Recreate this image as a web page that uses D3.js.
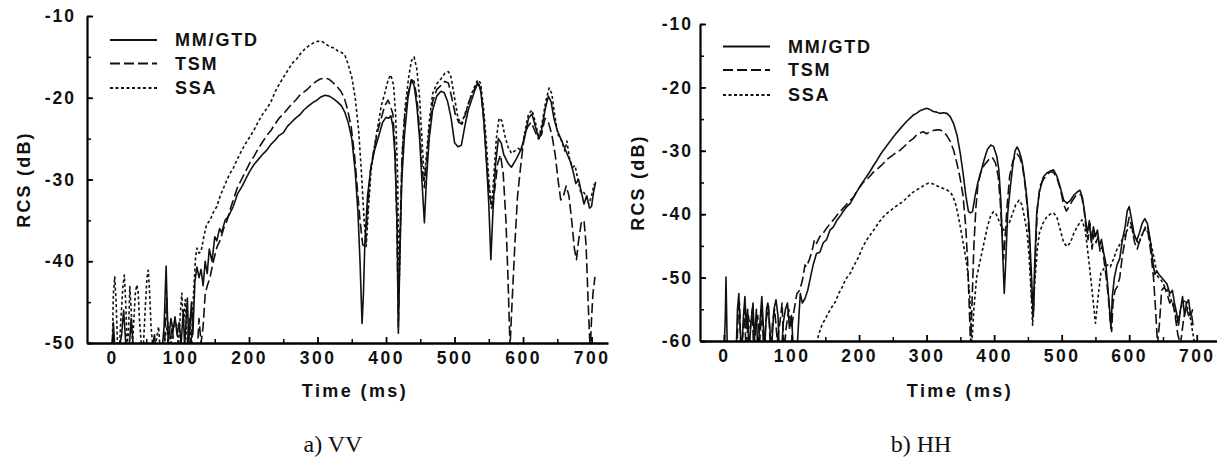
<!DOCTYPE html>
<html>
<head>
<meta charset="utf-8">
<script src="https://cdn.jsdelivr.net/npm/d3@7/dist/d3.min.js"></script>
<style>
  html, body { margin: 0; padding: 0; background: #fff; }
  svg { display: block; }
  .lab { font-family: "Liberation Sans", Arial, sans-serif; font-weight: bold; fill: #111; }
  .cap { font-family: "Liberation Serif", "Times New Roman", serif; fill: #111; }
</style>
</head>
<body>
<svg id="chart" width="1217" height="468"></svg>
<script>
// ---------------- DATA ----------------
const seriesNames = ["MM/GTD", "TSM", "SSA"];
const xTickLabels = [0, 100, 200, 300, 400, 500, 600, 700];
const yTicksVV = [-50, -40, -30, -20, -10];
const yTicksHH = [-60, -50, -40, -30, -20, -10];
const captions = ["a) VV", "b) HH"];

// a) VV  [time ms, RCS dB]
const vvMM = [[0,-52],[2,-47.5],[4,-50.5],[8,-52],[14,-49],[17,-46],[20,-50],[24,-52],[28,-47],[31,-50.5],[36,-52],[55,-52],[62,-49],[65,-52],[72,-52],[76,-48],[79,-40.6],[82,-50],[86,-47],[89,-48.5],[92,-46.8],[95,-49],[98,-47.5],[101,-50],[104,-46],[106,-50.5],[110,-44.5],[112,-50],[116,-45],[118,-49],[121,-42.5],[124,-40.7],[127,-42],[130,-41],[133,-43],[136,-40],[139,-41.5],[142,-38.5],[146,-40],[150,-37],[153,-37.5],[157,-36],[160,-36.5],[165,-35],[170,-34.5],[177,-33.3],[183,-31.8],[190,-30.8],[196,-29.8],[201,-29.0],[207,-28.2],[213,-27.6],[219,-27],[226,-26.4],[232,-25.7],[238,-25.2],[244,-24.6],[250,-24.3],[256,-23.5],[262,-23],[268,-22.5],[274,-22.1],[280,-21.5],[287,-21],[293,-20.6],[299,-20.3],[305,-19.9],[311,-19.7],[317,-19.8],[323,-20.1],[329,-20.5],[335,-21],[340,-21.8],[345,-23.1],[350,-25],[355,-29],[359,-34],[362,-40],[365,-47.6],[367,-44],[369,-38],[373,-32],[378,-28.5],[383,-26.5],[390,-24.5],[395,-23],[400,-22.4],[404,-22.5],[407,-22.2],[410,-23.5],[413,-27],[416,-35],[418,-48.8],[420,-40],[423,-30],[427,-24.5],[432,-20],[437,-17.8],[441,-18.5],[445,-21],[449,-25],[453,-31],[456,-35.3],[459,-30],[463,-25],[468,-21.5],[474,-19.8],[480,-19.2],[485,-19.4],[490,-20.5],[495,-22.5],[500,-25.5],[505,-26],[510,-25.8],[515,-23.5],[520,-21.5],[526,-20],[530,-19],[534,-18.2],[538,-19],[542,-22],[546,-27],[550,-33],[553,-39.8],[556,-34],[560,-28],[564,-25],[568,-25.5],[572,-27],[578,-28],[583,-28.5],[590,-27.5],[596,-26.5],[602,-25],[608,-22.5],[613,-22],[618,-23.5],[623,-25],[627,-24],[632,-21.5],[637,-19.8],[641,-20.5],[645,-22.5],[650,-24],[655,-25],[660,-26],[665,-27],[669,-27.8],[673,-29],[677,-30.5],[681,-30],[685,-31.5],[689,-33],[693,-32],[697,-33.5],[700,-33.3],[703,-31.5],[706,-30.3]];

const vvTSM = [[0,-52],[76,-52],[78,-47],[80,-44.5],[82,-52],[86,-49],[88,-48],[92,-52],[112,-52],[116,-48.5],[119,-52],[124,-52],[127,-47],[130,-50],[133,-48],[136,-44],[139,-43],[143,-42],[148,-40],[153,-38.3],[158,-37.4],[163,-36],[168,-35],[172,-33.8],[177,-32.5],[183,-31],[189,-30],[195,-29],[201,-28],[207,-27.2],[213,-26.3],[219,-25.5],[226,-24.6],[232,-24],[238,-23.2],[244,-22.5],[250,-22],[255,-21.5],[262,-20.8],[268,-20.3],[274,-19.7],[280,-19.3],[286,-18.9],[292,-18.4],[298,-18],[304,-17.7],[310,-17.6],[316,-17.7],[322,-18.1],[328,-18.6],[334,-19.2],[339,-20],[344,-21.5],[349,-23.5],[354,-27],[358,-31],[362,-35],[366,-38],[370,-38.2],[373,-34],[377,-29],[382,-26.5],[388,-24],[393,-22.5],[398,-21],[403,-20.3],[407,-21.2],[410,-22],[413,-26],[416,-36],[418,-48],[420,-38],[423,-28],[427,-22.5],[432,-19.5],[437,-17.8],[441,-18],[445,-20],[449,-24],[453,-29],[456,-31],[459,-28],[463,-24],[468,-20.5],[474,-19],[480,-18.5],[486,-18],[491,-18.2],[496,-20],[501,-22],[506,-23],[511,-23.2],[516,-22],[521,-20.5],[526,-19.5],[531,-18.6],[535,-18],[539,-19.5],[543,-23],[547,-28],[551,-32],[555,-33.5],[559,-31],[563,-28],[567,-27],[571,-29.2],[575,-35],[578,-42],[581,-50.5],[584,-45],[588,-38],[592,-32],[597,-28],[602,-24.5],[607,-23.5],[612,-23],[617,-24],[622,-25],[627,-24.5],[632,-22.5],[637,-23],[642,-24.5],[647,-27],[651,-30],[655,-32.5],[659,-32],[663,-30.8],[667,-32],[671,-35],[675,-38.5],[678,-39.8],[681,-37.5],[685,-35.3],[689,-35],[692,-38],[695,-45],[698,-51],[700,-47],[702,-44],[705,-41.9]];

const vvSSA = [[0,-52],[2,-44],[4,-41.9],[6,-45],[8,-50],[10,-52],[13,-47],[16,-43],[18,-41.7],[20,-45],[22,-50],[24,-49],[26,-43.1],[28,-46],[30,-50],[32,-47],[34,-44],[36,-42.9],[38,-43.5],[40,-47],[43,-50.5],[46,-50],[49,-45],[51,-42],[53,-41.1],[55,-44],[57,-48],[60,-51],[64,-50],[68,-48],[70,-50.5],[74,-52],[78,-49],[82,-47.5],[86,-50],[90,-48],[94,-47.6],[97,-50.5],[100,-46],[102,-43.9],[104,-48],[107,-44.7],[110,-50],[113,-47],[116,-50],[119,-44],[122,-39.5],[124,-38.4],[127,-39],[130,-38.8],[134,-37],[138,-35.5],[143,-35],[148,-34],[153,-33.3],[158,-32],[163,-31],[168,-30],[172,-29.3],[177,-28.6],[183,-27.5],[189,-26.5],[195,-25.6],[201,-24.8],[207,-24],[213,-23],[220,-22],[226,-21.3],[232,-20.5],[238,-19.3],[245,-18.2],[251,-17.4],[257,-16.6],[263,-15.8],[270,-15.2],[276,-14.5],[282,-14],[288,-13.6],[294,-13.3],[300,-13.1],[306,-13.1],[312,-13.4],[318,-13.8],[324,-13.9],[330,-14.3],[336,-14.5],[340,-14.8],[345,-16],[350,-17.5],[355,-20],[360,-24],[364,-29],[368,-35],[371,-38.2],[374,-34],[378,-29],[383,-26],[388,-23.5],[393,-21],[398,-19.5],[403,-17.8],[407,-17.2],[411,-18.5],[414,-22],[417,-30],[419,-44],[421,-36],[424,-26],[428,-21],[433,-17.5],[437,-15.5],[441,-15],[445,-16.5],[449,-20],[453,-26],[456,-30],[459,-27],[463,-23],[468,-19.5],[474,-18.3],[480,-17.7],[486,-17],[491,-16.8],[495,-17.5],[500,-20],[505,-22.5],[510,-23.2],[515,-22],[520,-20.8],[525,-19.5],[530,-18.5],[534,-17.8],[538,-18.2],[542,-21],[546,-25],[550,-30],[554,-33.5],[557,-30],[561,-25],[565,-22.5],[569,-22.8],[573,-24.5],[578,-26],[583,-26.8],[588,-26.5],[593,-26.2],[598,-26.5],[603,-24],[608,-22],[613,-21.5],[618,-23],[623,-25],[628,-23],[633,-20.5],[638,-18.8],[642,-19.5],[646,-22],[651,-24.5],[656,-25.2],[661,-26.5],[664,-25.3],[668,-27.5],[672,-28.5],[676,-28.3],[680,-30],[684,-31.5],[688,-31.5],[692,-32],[696,-33],[700,-32],[704,-30.5]];

// b) HH  [time ms, RCS dB]
const hhMM = [[0,-62],[2,-56],[3,-49.9],[4,-56],[5,-62],[18,-62],[20,-55],[22,-52.5],[24,-58],[26,-62],[29,-56],[31,-53],[33,-58],[35,-55],[37,-62],[40,-57],[43,-54],[45,-60],[48,-55],[50,-62],[54,-56],[56,-53],[58,-57],[60,-62],[63,-55],[65,-54],[68,-58],[70,-62],[74,-55],[77,-53.5],[80,-56],[82,-62],[85,-62],[88,-57],[91,-55],[94,-54],[97,-58],[100,-56],[103,-62],[108,-62],[111,-56],[113,-52.5],[116,-54],[120,-53.3],[124,-52],[128,-50],[132,-48],[137,-46.2],[142,-46],[147,-44.5],[152,-44],[157,-42.5],[162,-42],[167,-41],[172,-40.3],[177,-39.5],[182,-38.8],[187,-38.3],[192,-37.3],[197,-36.4],[202,-35.5],[207,-34.7],[211,-34.1],[216,-33.3],[221,-32.4],[226,-31.6],[231,-30.7],[236,-29.9],[241,-29.2],[246,-28.5],[251,-27.8],[256,-27.1],[261,-26.5],[266,-25.9],[271,-25.3],[276,-24.8],[281,-24.3],[285,-24.1],[290,-23.7],[295,-23.5],[300,-23.3],[305,-23.5],[310,-23.8],[315,-23.9],[320,-24.1],[325,-24],[330,-24.1],[335,-24.6],[340,-25.7],[345,-27.5],[350,-30.5],[354,-33.5],[358,-37],[362,-39.6],[365,-39.8],[368,-39.6],[372,-37],[376,-35],[380,-33.5],[385,-31.5],[390,-29.8],[395,-29.1],[399,-29.3],[404,-30.9],[407,-33],[410,-38],[413,-47],[415,-52.5],[417,-48],[420,-40],[424,-35.7],[428,-32],[431,-30],[434,-29.4],[437,-30],[441,-31.5],[444,-33.5],[448,-37],[452,-42],[455,-49],[458,-56.2],[460,-48],[463,-40],[467,-36.5],[473,-34.1],[478,-33.5],[483,-33.2],[488,-33],[493,-34],[498,-35.8],[503,-37.8],[508,-38.3],[513,-37.8],[518,-37],[523,-36.5],[527,-36.2],[531,-37.5],[535,-40.6],[538,-43],[541,-41],[544,-44.5],[547,-42],[550,-43.5],[553,-42.5],[556,-45],[559,-44],[562,-46],[565,-47.5],[568,-51],[571,-55],[573,-58],[575,-53],[578,-50],[582,-48],[586,-47],[590,-44],[594,-42],[597,-39.5],[600,-38.8],[603,-40.5],[607,-43],[611,-44.2],[615,-43],[619,-41.5],[623,-40.7],[627,-41.5],[631,-44],[635,-47.5],[638,-49.5],[641,-49],[644,-49.5],[648,-50],[652,-50.5],[656,-51],[660,-52.5],[664,-52],[667,-54],[670,-55.5],[673,-57.5],[676,-55],[679,-53],[682,-56],[685,-54],[688,-53.5],[691,-56],[694,-55]];

const hhTSM = [[0,-62],[18,-62],[19,-62],[21,-56],[23,-54],[25,-62],[28,-59],[30,-55],[33,-62],[36,-56],[39,-58],[42,-55],[44,-62],[47,-58],[50,-56],[53,-60],[56,-55],[59,-62],[62,-57],[66,-54.5],[69,-62],[72,-57],[75,-55],[79,-60],[83,-57],[86,-54],[89,-62],[92,-58],[96,-55],[100,-58],[104,-55],[108,-52.5],[112,-52],[116,-50.5],[120,-48],[122,-48.3],[127,-47],[131,-45.5],[134,-44],[137,-44.6],[142,-43.5],[147,-43],[152,-42.2],[157,-41.5],[162,-40.9],[167,-40.2],[172,-39.6],[177,-39],[182,-38.4],[187,-37.8],[192,-37.3],[197,-36.3],[202,-35.6],[206,-35],[211,-34.6],[216,-34],[221,-33.4],[226,-33],[231,-32.5],[236,-32],[241,-31.4],[246,-31],[251,-30.6],[256,-30.2],[261,-29.9],[266,-29.4],[271,-28.9],[276,-28.4],[281,-28],[285,-27.5],[290,-27.2],[295,-27],[300,-27.3],[305,-27],[310,-26.8],[315,-26.7],[320,-26.7],[325,-27],[330,-27.6],[335,-28.5],[340,-29.9],[345,-32],[350,-34.5],[354,-37.1],[358,-42],[361,-48],[363,-54],[365,-60.5],[367,-55],[370,-45],[373,-39],[376,-35.3],[380,-33.5],[385,-32.3],[392,-31.4],[397,-31],[402,-31.9],[406,-34],[409,-38],[412,-43],[414,-47.1],[416,-44],[419,-39],[423,-34],[428,-31.5],[434,-30.5],[438,-31],[442,-32.5],[446,-35.5],[450,-40],[453,-46],[456,-54],[458,-56],[461,-47],[464,-39],[468,-35.5],[473,-34.5],[478,-33.8],[483,-33.3],[488,-33.4],[493,-34.3],[498,-36],[503,-38.5],[507,-39.5],[511,-38.8],[515,-38],[520,-37.2],[525,-36.8],[529,-37],[533,-39],[536,-42],[539,-44],[542,-41.5],[545,-45.5],[548,-43],[551,-44.5],[554,-43.5],[557,-46],[560,-45],[563,-47.5],[566,-50],[569,-53],[572,-57],[574,-58.5],[576,-54],[579,-52],[582,-51.5],[586,-50],[590,-46.5],[594,-44],[597,-42],[600,-40.5],[604,-42],[608,-44.5],[612,-45.5],[616,-44],[620,-43],[624,-42],[628,-43],[632,-46],[636,-50],[639,-55],[642,-60.5],[645,-57],[648,-52],[652,-51.5],[656,-52.5],[660,-54],[664,-53.5],[668,-56],[672,-59],[676,-60.5],[680,-57],[684,-54.5],[688,-56],[692,-55.5],[695,-58]];

const hhSSA = [[132,-62],[137,-61],[140,-59],[145,-57.5],[150,-56.5],[155,-55.5],[160,-54.6],[165,-53.8],[170,-52.5],[175,-51.5],[180,-50.3],[187,-49.3],[193,-48],[199,-46.8],[205,-45.3],[211,-44.1],[217,-43.2],[223,-42.3],[230,-41.2],[236,-40.4],[242,-39.8],[248,-39.3],[254,-38.8],[261,-38.3],[267,-37.8],[273,-37.2],[279,-36.6],[285,-36.2],[291,-35.8],[297,-35.4],[303,-35.1],[309,-35.2],[315,-35.5],[321,-35.8],[327,-36],[332,-36.3],[337,-36.8],[342,-38],[346,-39.8],[350,-42],[355,-45],[360,-48.3],[364,-53],[367,-60.5],[370,-55],[374,-50],[380,-47],[385,-44.5],[390,-42],[395,-40.2],[399,-39.6],[403,-40],[407,-41],[411,-42],[414,-42.5],[418,-42],[422,-41.5],[427,-40],[432,-38.5],[437,-37.8],[441,-38.5],[445,-40.5],[449,-43],[452,-47],[455,-53],[457,-57.5],[460,-51],[464,-45.5],[467,-43],[472,-41.5],[478,-40.4],[483,-40],[488,-39.8],[493,-40.5],[498,-42.5],[503,-44.5],[508,-45.1],[513,-44.5],[518,-43],[524,-41.8],[530,-40.9],[535,-42.5],[540,-47.1],[545,-52],[550,-57.2],[554,-53],[558,-49.3],[563,-48.5],[568,-48],[572,-48.3],[577,-47],[582,-45.5],[587,-44.6],[592,-43.5],[597,-42.5],[602,-42],[606,-43],[610,-44],[614,-44.6],[618,-43.5],[623,-42.5],[627,-42],[631,-44],[636,-46.5],[642,-49.8],[648,-50.5],[653,-51.5],[657,-52],[662,-53.5],[667,-55],[671,-57],[675,-55.5],[679,-54],[683,-53.5],[687,-55],[690,-56],[693,-58],[697,-60.5]];

// ---------------- DRAW ----------------
const svg = d3.select("#chart");
const dashes = ["none", "10,4", "3,2.5"];
const fmt = d => String(d).replace("\u2212", "-");

function panel(cfg) {
  const x = d3.scaleLinear().domain(cfg.xDomain).range(cfg.xRange);
  const y = d3.scaleLinear().domain(cfg.yDomain).range(cfg.yRange);
  const g = svg.append("g");
  const clipId = "clip" + cfg.id;
  svg.append("clipPath").attr("id", clipId).append("rect")
    .attr("x", cfg.xRange[0]).attr("y", cfg.yRange[1] - 2)
    .attr("width", cfg.xRange[1] - cfg.xRange[0]).attr("height", cfg.yRange[0] - cfg.yRange[1] + 2);

  const line = d3.line().x(d => x(d[0])).y(d => y(d[1]));
  const lg = g.append("g").attr("clip-path", `url(#${clipId})`);
  cfg.series.forEach((s, i) => {
    lg.append("path").datum(s).attr("d", line)
      .attr("fill", "none").attr("stroke", "#111").attr("stroke-width", 1.6)
      .attr("stroke-linejoin", "round")
      .attr("stroke-dasharray", dashes[i]);
  });

  // axes
  const yMinor = d3.range(cfg.yDomain[0], cfg.yDomain[1] + 0.1, 5);
  g.append("g").attr("transform", `translate(${cfg.xRange[0]},0)`)
    .call(d3.axisLeft(y).tickValues(yMinor).tickSize(-4).tickFormat("").tickSizeOuter(0))
    .call(a => a.select(".domain").remove())
    .selectAll("line").attr("stroke-width", 1.5);
  const ya = g.append("g").attr("transform", `translate(${cfg.xRange[0]},0)`)
    .call(d3.axisLeft(y).tickValues(cfg.yTicks).tickSize(-6).tickSizeOuter(0).tickPadding(cfg.yPad).tickFormat(fmt));
  ya.select(".domain").attr("stroke-width", 2.2);
  ya.selectAll("line").attr("stroke-width", 1.8);
  ya.selectAll("text").attr("class", "lab").style("font-size", "17.5px").style("letter-spacing", "2px");

  const xMinor = d3.range(50, 701, 100);
  g.append("g").attr("transform", `translate(0,${cfg.yRange[0]})`)
    .call(d3.axisBottom(x).tickValues(xMinor).tickSize(-4).tickFormat("").tickSizeOuter(0))
    .call(a => a.select(".domain").remove())
    .selectAll("line").attr("stroke-width", 1.5);
  const xa = g.append("g").attr("transform", `translate(0,${cfg.yRange[0]})`)
    .call(d3.axisBottom(x).tickValues(xTickLabels).tickSize(-6).tickSizeOuter(0).tickPadding(9).tickFormat(fmt));
  xa.select(".domain").attr("stroke-width", 2.4);
  xa.selectAll("line").attr("stroke-width", 1.8);
  xa.selectAll("text").attr("class", "lab").style("font-size", "17.5px").style("letter-spacing", "2.5px");

  // axis titles
  g.append("text").attr("class", "lab").attr("text-anchor", "middle")
    .attr("transform", `translate(${cfg.yTitleX},${(cfg.yRange[0] + cfg.yRange[1]) / 2}) rotate(-90)`)
    .attr("dy", "0.35em").style("font-size", "18px").style("letter-spacing", "2.2px").text("RCS (dB)");
  g.append("text").attr("class", "lab").attr("text-anchor", "middle")
    .attr("x", cfg.xTitleX).attr("y", 397).style("font-size", "18px").style("letter-spacing", "2.4px").text("Time (ms)");
  g.append("text").attr("class", "cap").attr("text-anchor", "middle")
    .attr("x", cfg.capX).attr("y", 452).style("font-size", "24px").text(cfg.caption);

  // legend
  seriesNames.forEach((n, i) => {
    const ly = cfg.legY[i];
    g.append("line").attr("x1", cfg.legX).attr("x2", cfg.legX + 47).attr("y1", ly).attr("y2", ly)
      .attr("stroke", "#111").attr("stroke-width", 1.8).attr("stroke-dasharray", dashes[i]);
    g.append("text").attr("class", "lab").attr("x", cfg.legX + 65).attr("y", ly).attr("dy", "0.36em")
      .style("font-size", "18px").style("letter-spacing", "1.8px").text(n);
  });
}

panel({
  id: "a", xDomain: [-36.5, 724], xRange: [87, 608],
  yDomain: [-50, -10], yRange: [343, 16], yTicks: yTicksVV, yPad: 11,
  series: [vvMM, vvTSM, vvSSA], yTitleX: 24, xTitleX: 355, capX: 333, caption: captions[0],
  legX: 110, legY: [40, 63.5, 88]
});
panel({
  id: "b", xDomain: [-35.5, 730], xRange: [700, 1217],
  yDomain: [-60, -10], yRange: [341, 24], yTicks: yTicksHH, yPad: 7,
  series: [hhMM, hhTSM, hhSSA], yTitleX: 638, xTitleX: 960, capX: 921, caption: captions[1],
  legX: 723, legY: [46.5, 70, 95]
});
</script>
</body>
</html>
